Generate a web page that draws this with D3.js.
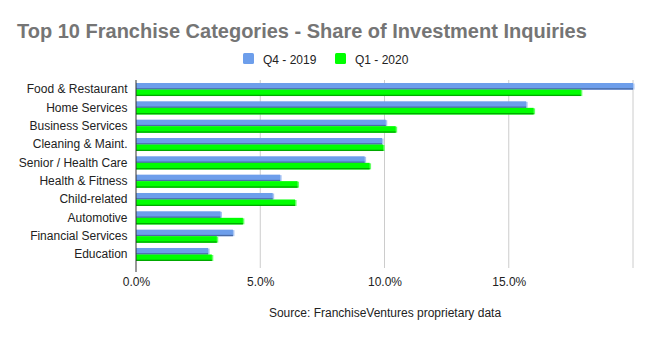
<!DOCTYPE html>
<html>
<head>
<meta charset="utf-8">
<script src="https://cdn.jsdelivr.net/npm/d3@7"></script>
<style>
  body { margin: 0; background: #fff; font-family: "Liberation Sans", Arial, sans-serif; }
</style>
</head>
<body>
<script>
// chart data
var categories = ["Food & Restaurant", "Home Services", "Business Services", "Cleaning & Maint.",
    "Senior / Health Care", "Health & Fitness", "Child-related", "Automotive",
    "Financial Services", "Education"];
var q4_2019 = [20.0, 15.7, 10.05, 9.9, 9.2, 5.8, 5.5, 3.4, 3.9, 2.9];
var q1_2020 = [17.9, 16.0, 10.45, 9.95, 9.4, 6.5, 6.4, 4.3, 3.25, 3.05];
var seriesNames = ["Q4 - 2019", "Q1 - 2020"];
var xTicks = [0, 5, 10, 15, 20];

var svgWidth = 650;
var svgHeight = 337;

var margin = { top: 80, right: 17, bottom: 69, left: 136 };
var width = svgWidth - margin.left - margin.right;
var height = svgHeight - margin.top - margin.bottom;

var colors = ["#6d9eeb", "#00ff00"];
var darkColors = ["#4a6aa5", "#00a800"];
var lightColors = ["#a9c5f3", "#66ff66"];

var svg = d3.select("body")
    .append("svg")
    .attr("width", svgWidth)
    .attr("height", svgHeight);

// title
svg.append("text")
    .attr("x", 17)
    .attr("y", 38)
    .attr("font-size", "20px")
    .attr("font-weight", "bold")
    .attr("fill", "#757575")
    .text("Top 10 Franchise Categories - Share of Investment Inquiries");

// legend
var legend = svg.append("g").attr("transform", "translate(243, 53)");
var legendX = [0, 92];
seriesNames.forEach(function (name, i) {
    legend.append("rect")
        .attr("x", legendX[i])
        .attr("y", 0)
        .attr("width", 11)
        .attr("height", 11)
        .attr("rx", 1.5)
        .attr("fill", colors[i]);
    legend.append("text")
        .attr("x", legendX[i] + 20)
        .attr("y", 10.5)
        .attr("font-size", "12px")
        .attr("fill", "#222")
        .text(name);
});

var chartGroup = svg.append("g")
    .attr("transform", `translate(${margin.left}, ${margin.top})`);

var xScale = d3.scaleLinear()
    .domain([0, 20])
    .range([0, 497]);

var yScale = d3.scaleBand()
    .domain(categories)
    .range([0, height])
    .paddingInner(0.29)
    .paddingOuter(0.273)
    .align(0.3);

var subScale = d3.scaleBand()
    .domain([0, 1])
    .range([0, yScale.bandwidth()]);

// gridlines
chartGroup.append("g")
    .selectAll("line")
    .data(xTicks.slice(1))
    .enter()
    .append("line")
    .attr("x1", d => xScale(d))
    .attr("x2", d => xScale(d))
    .attr("y1", 0)
    .attr("y2", height)
    .attr("stroke", "#cccccc")
    .attr("stroke-width", 1);

// x axis labels
var bottomAxis = d3.axisBottom(xScale)
    .tickValues(xTicks.slice(0, 4))
    .tickFormat(d => d.toFixed(1) + "%")
    .tickSize(0)
    .tickPadding(9);

var xAxisG = chartGroup.append("g")
    .attr("transform", `translate(0, ${height})`)
    .call(bottomAxis);
xAxisG.select(".domain").remove();
xAxisG.selectAll("text")
    .attr("font-family", "Liberation Sans, Arial, sans-serif")
    .attr("font-size", "12px")
    .attr("fill", "#222");

// category labels
var leftAxis = d3.axisLeft(yScale).tickSize(0).tickPadding(8.5);
var yAxisG = chartGroup.append("g").call(leftAxis);
yAxisG.select(".domain").remove();
yAxisG.selectAll("text")
    .attr("font-family", "Liberation Sans, Arial, sans-serif")
    .attr("font-size", "12px")
    .attr("fill", "#222");

// bars
var series = [q4_2019, q1_2020];
series.forEach(function (vals, s) {
    var g = chartGroup.append("g");
    var bh = subScale.bandwidth();
    var rows = g.selectAll("g")
        .data(vals)
        .enter()
        .append("g")
        .attr("transform", (d, i) => `translate(0, ${yScale(categories[i]) + subScale(s)})`);

    // right edge highlight (3D side)
    rows.append("rect")
        .attr("x", 0)
        .attr("y", 0.5)
        .attr("width", d => xScale(d) + 1.5)
        .attr("height", bh - 0.5)
        .attr("fill", lightColors[s]);

    rows.append("rect")
        .attr("x", 0)
        .attr("y", 0)
        .attr("width", d => xScale(d))
        .attr("height", bh)
        .attr("fill", colors[s]);

    rows.append("rect")
        .attr("x", 0)
        .attr("y", bh - 1.3)
        .attr("width", d => xScale(d))
        .attr("height", 1.3)
        .attr("fill", darkColors[s]);
});

// zero axis line
chartGroup.append("line")
    .attr("x1", xScale(0))
    .attr("x2", xScale(0))
    .attr("y1", 0)
    .attr("y2", height + 4)
    .attr("stroke", "#333")
    .attr("stroke-width", 1);

// source note
svg.append("text")
    .attr("x", 385)
    .attr("y", 317)
    .attr("text-anchor", "middle")
    .attr("font-size", "12px")
    .attr("fill", "#222")
    .text("Source: FranchiseVentures proprietary data");
</script>
</body>
</html>
